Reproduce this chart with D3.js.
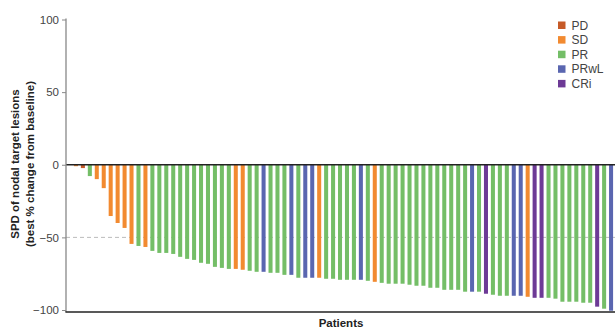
<!DOCTYPE html>
<html>
<head>
<meta charset="utf-8">
<script src="https://cdn.jsdelivr.net/npm/d3@7"></script>
<style>
  body { margin: 0; background: #fff; }
  svg { display: block; font-family: "Liberation Sans", Arial, Helvetica, sans-serif; }
  .tick text { fill: #444; font-size: 11.5px; }
  .tick line { stroke: #888; }
  .axisTitle { font-weight: bold; font-size: 11.5px; fill: #222; }
  .legendText { font-size: 12px; fill: #444; }
</style>
</head>
<body>
<div id="chart"></div>
<script>
// best % change per patient (left to right)
var changes = [
  -1.0, -2.3, -7.8, -9.9, -16.1, -35.3, -40.1, -43.5, -54.5, -55.9,
  -56.6, -59.3, -60.7, -60.7, -61.4, -63.4, -64.8, -65.5, -67.5, -68.2,
  -70.3, -71.0, -71.7, -71.7, -72.3, -73.0, -73.7, -73.7, -74.4, -74.4,
  -75.8, -75.8, -77.8, -77.8, -77.8, -77.8, -78.5, -78.5, -79.2, -79.2,
  -79.2, -79.2, -79.9, -80.6, -81.3, -81.9, -81.9, -81.9, -82.6, -83.3,
  -83.3, -84.7, -84.7, -86.1, -86.1, -86.1, -87.4, -87.4, -87.4, -88.8,
  -89.5, -90.2, -90.2, -90.2, -90.2, -90.9, -91.6, -91.6, -91.6, -92.2,
  -94.3, -94.3, -94.3, -95.0, -95.0, -97.7, -99.1, -100.5
];
var responses = [
  "SD", "PD", "PR", "SD", "SD", "SD", "SD", "SD", "SD", "PR",
  "SD", "PR", "PR", "PR", "PR", "PR", "PR", "PR", "PR", "PR",
  "PR", "PR", "PR", "SD", "SD", "PR", "PR", "PRwL", "PR", "PR",
  "PR", "PRwL", "PR", "PRwL", "PRwL", "SD", "PR", "PR", "PR", "PR",
  "PR", "PRwL", "PR", "SD", "PR", "PR", "PR", "PR", "PR", "PR",
  "PR", "PR", "PR", "PR", "PR", "PR", "PR", "PRwL", "PR", "CRi",
  "PR", "PR", "PR", "PRwL", "PRwL", "SD", "CRi", "CRi", "PR", "PR",
  "PR", "PR", "PR", "PR", "PR", "CRi", "PR", "PRwL"
];
var categories = ["PD", "SD", "PR", "PRwL", "CRi"];
var yTicks = [100, 50, 0, -50, -100];

var colors = ["#c65a28", "#f28a30", "#74be67", "#5a66b0", "#6d3a96"];

var width = 615;
var height = 328;
var axisX = 66;
var baseY = 312;

var data = changes.map(function(v, i) {
  return { id: i + 1, value: v, resp: responses[i] };
});

var svg = d3
  .select("#chart")
  .append("svg")
  .attr("width", width)
  .attr("height", height);

var xScale = d3
  .scaleBand()
  .domain(data.map(function(d) { return d.id; }))
  .range([71, 616])
  .padding(0.42);

var yScale = d3
  .scaleLinear()
  .domain([-100, 100])
  .range([310, 19.5]);

var colorScale = d3.scaleOrdinal().domain(categories).range(colors);

// dashed -50 reference
svg.append("line")
  .attr("x1", axisX).attr("x2", width)
  .attr("y1", yScale(-50)).attr("y2", yScale(-50))
  .attr("stroke", "#bbb")
  .attr("stroke-dasharray", "4,3");

// bars
svg.selectAll(".bar")
  .data(data)
  .enter()
  .append("rect")
  .attr("class", "bar")
  .attr("x", function(d) { return xScale(d.id); })
  .attr("width", xScale.bandwidth())
  .attr("y", yScale(0))
  .attr("height", function(d) { return yScale(d.value) - yScale(0); })
  .attr("fill", function(d) { return colorScale(d.resp); });

// zero line
svg.append("line")
  .attr("x1", axisX).attr("x2", width)
  .attr("y1", yScale(0)).attr("y2", yScale(0))
  .attr("stroke", "#222")
  .attr("stroke-width", 1.3);

// y axis
var yAxis = d3.axisLeft(yScale)
  .tickValues(yTicks)
  .tickSize(4)
  .tickPadding(3);

var yG = svg.append("g")
  .attr("transform", "translate(" + axisX + ",0)")
  .call(yAxis);
yG.select(".domain").remove();

svg.append("line")
  .attr("x1", axisX).attr("x2", axisX)
  .attr("y1", yScale(100) - 1).attr("y2", baseY)
  .attr("stroke", "#888")
  .attr("stroke-width", 1.3);

// bottom line
svg.append("line")
  .attr("x1", axisX - 0.6).attr("x2", width)
  .attr("y1", baseY).attr("y2", baseY)
  .attr("stroke", "#222")
  .attr("stroke-width", 1.3);

// titles
svg.append("text")
  .attr("class", "axisTitle")
  .attr("x", 341)
  .attr("y", 327)
  .attr("text-anchor", "middle")
  .text("Patients");

var yTitle = svg.append("g")
  .attr("transform", "translate(19,164)rotate(-90)");
yTitle.append("text")
  .attr("class", "axisTitle")
  .attr("text-anchor", "middle")
  .attr("y", 0)
  .text("SPD of nodal target lesions");
yTitle.append("text")
  .attr("class", "axisTitle")
  .attr("text-anchor", "middle")
  .attr("y", 15)
  .text("(best % change from baseline)");

// legend
var legend = svg.selectAll(".legendItem")
  .data(categories)
  .enter()
  .append("g")
  .attr("class", "legendItem")
  .attr("transform", function(d, i) {
    return "translate(558," + (21.5 + i * 14.6) + ")";
  });
legend.append("rect")
  .attr("width", 7.5)
  .attr("height", 7.5)
  .attr("fill", function(d) { return colorScale(d); });
legend.append("text")
  .attr("class", "legendText")
  .attr("x", 13.5)
  .attr("y", 8)
  .text(function(d) { return d; });
</script>
</body>
</html>
